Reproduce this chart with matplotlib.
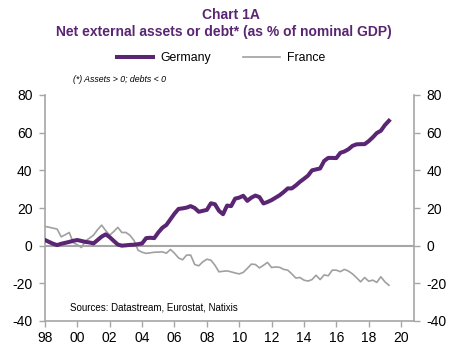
import matplotlib
matplotlib.use("Agg")
import matplotlib.pyplot as plt
import numpy as np

plt.rcParams['font.family'] = ['Liberation Sans', 'DejaVu Sans']

# quarterly dates 1998Q1 .. 2019Q2
start_year = 1998.0
germany = [3.0, 2.0, 1.0, 0.3, 1.0, 1.5, 2.0, 2.6,
           3.0, 2.5, 2.0, 1.7, 1.2, 3.0, 4.8, 6.0,
           4.5, 2.5, 0.6, 0.0, 0.2, 0.4, 0.5, 0.8,
           1.2, 4.0, 4.2, 4.0, 7.0, 9.5, 11.0, 14.0,
           17.0, 19.5, 19.8, 20.2, 21.0, 20.0, 18.0, 18.5,
           19.0, 22.5, 22.0, 18.5, 16.7, 21.3, 21.0, 25.0,
           25.5, 26.5, 23.8, 25.5, 26.6, 25.8, 22.4, 23.2,
           24.2, 25.5, 26.8, 28.5, 30.4, 30.4, 32.0, 33.9,
           35.5, 37.2, 40.0, 40.5, 41.0, 45.0, 46.6, 46.6,
           46.5, 49.3, 50.0, 51.2, 53.0, 53.8, 53.9, 53.9,
           55.5, 57.5, 59.8, 61.0, 64.0, 66.3]
france = [10.2, 9.8, 9.3, 8.8, 4.7, 5.8, 7.0, 1.5,
          0.5, -1.0, 2.5, 4.0, 5.6, 8.5, 10.9, 8.0,
          5.6, 7.5, 9.7, 7.0, 7.0, 5.5, 2.8, -2.4,
          -3.5, -4.1, -3.8, -3.5, -3.4, -3.3, -4.0, -2.0,
          -4.0, -6.5, -7.5, -5.0, -5.0, -10.0, -10.7, -8.6,
          -7.2, -7.7, -10.4, -13.9, -13.6, -13.4, -13.9, -14.5,
          -15.0, -14.2, -12.1, -9.8, -10.0, -11.8, -10.4, -8.9,
          -11.6, -11.3, -11.5, -12.6, -13.0, -15.0, -17.2, -16.9,
          -18.3, -18.8, -18.0, -15.7, -18.0, -15.5, -16.0, -13.0,
          -13.0, -13.8, -12.6, -13.5, -15.0, -17.0, -19.2, -16.9,
          -18.9, -18.3, -19.5, -16.5, -19.2, -21.0]
x_ticks = list(range(1998, 2021, 2))
x_labels = ["98", "00", "02", "04", "06", "08", "10", "12", "14", "16", "18", "20"]
y_ticks = [-40, -20, 0, 20, 40, 60, 80]

dates_g = start_year + 0.25 * np.arange(len(germany))
dates_f = start_year + 0.25 * np.arange(len(france))

purple = '#5a2573'
grey_line = '#a0a0a0'
axis_grey = '#a6a6a6'

W, H = 463, 352
fig = plt.figure(figsize=(W / 100, H / 100), dpi=100)
ax = fig.add_axes([45 / W, (H - 321) / H, (414 - 45) / W, (321 - 95) / H])

ax.axhline(0, color=axis_grey, lw=1.5, zorder=1)
l_f, = ax.plot(dates_f, france, color=grey_line, lw=1.2, label='France', zorder=2)
l_g, = ax.plot(dates_g, germany, color=purple, lw=2.9, label='Germany', zorder=3,
               solid_joinstyle='round')

ax.set_xlim(1998, 2020.8)
ax.set_ylim(-40, 80)
ax.set_xticks(x_ticks)
ax.set_xticklabels(x_labels)
ax.set_yticks(y_ticks)
ax.set_yticklabels([str(v) for v in y_ticks])

for s in ['left', 'right', 'bottom']:
    ax.spines[s].set_color(axis_grey)
    ax.spines[s].set_linewidth(1.2)
ax.spines['top'].set_visible(False)
ax.tick_params(axis='both', direction='out', length=4, width=1.0, color=axis_grey,
               labelsize=10, labelcolor='black', pad=3)
ax.tick_params(axis='y', which='both', left=True, right=True, labelleft=True,
               labelright=True, pad=5)

# titles
fig.text(231 / W, 1 - 15 / H, "Chart 1A", ha='center', va='center',
         fontsize=10, fontweight='bold', color=purple)
fig.text(224 / W, 1 - 32 / H, "Net external assets or debt* (as % of nominal GDP)",
         ha='center', va='center', fontsize=10, fontweight='bold', color=purple)

leg = fig.legend(handles=[l_g, l_f], labels=['Germany', 'France'], loc='center',
                 bbox_to_anchor=(221 / W, 1 - 58 / H), ncol=2, frameon=False,
                 fontsize=8.8, handlelength=3.0, handletextpad=0.6, columnspacing=2.6)

fig.text(73 / W, 1 - 80 / H, "(*) Assets > 0; debts < 0", ha='left', va='center',
         fontsize=6.3, style='italic', color='black')
ax.text(70 / W, 1 - 308 / H, "Sources: Datastream, Eurostat, Natixis", transform=fig.transFigure,
        ha='left', va='center', fontsize=7, color='black')

fig.savefig('out.png', dpi=100)
